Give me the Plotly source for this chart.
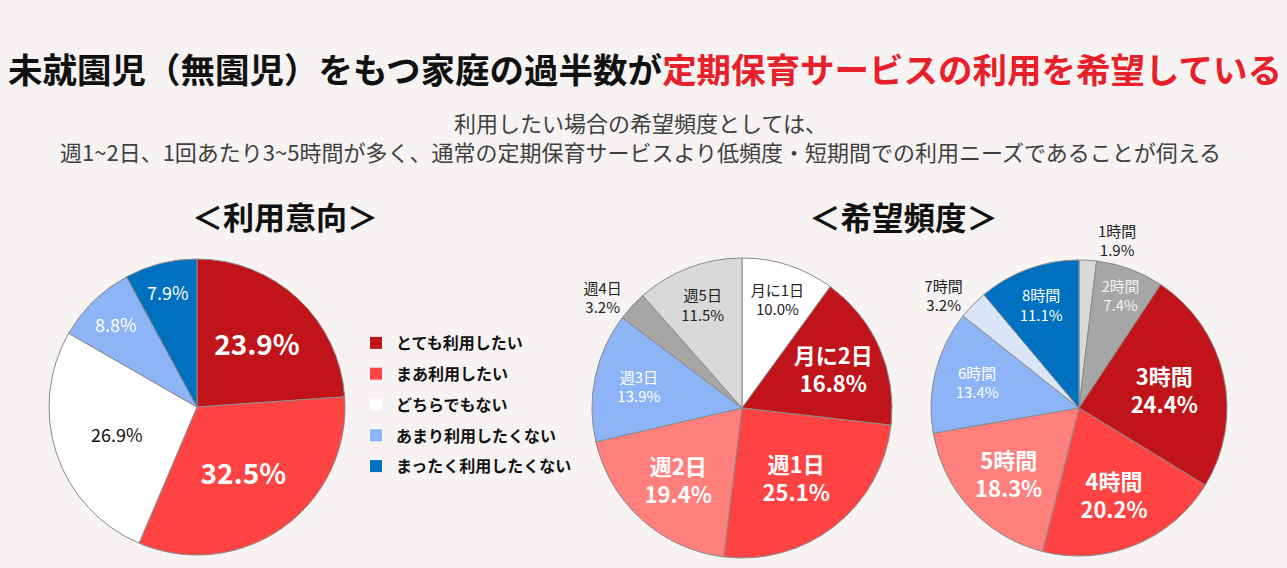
import plotly.graph_objects as go

FONT = "Noto Sans CJK JP"
BG = "#F7F3F2"
LINE = "#8A8A8A"

# ---- data ----
intent_labels = ["とても利用したい", "まあ利用したい", "どちらでもない", "あまり利用したくない", "まったく利用したくない"]
intent_values = [23.9, 32.5, 26.9, 8.8, 7.9]
intent_colors = ["#C0141A", "#FF4343", "#FFFFFF", "#8EB4F8", "#0070C0"]

freq_labels = ["月に1日", "月に2日", "週1日", "週2日", "週3日", "週4日", "週5日"]
freq_values = [10.0, 16.8, 25.1, 19.4, 13.9, 3.2, 11.5]
freq_colors = ["#FFFFFF", "#C0141A", "#FF4343", "#FF7F7C", "#8EB4F8", "#A6A6A6", "#D9D9D9"]

hour_labels = ["1時間", "2時間", "3時間", "4時間", "5時間", "6時間", "7時間", "8時間"]
hour_values = [1.9, 7.4, 24.4, 20.2, 18.3, 13.4, 3.2, 11.1]
hour_colors = ["#D9D9D9", "#A6A6A6", "#C0141A", "#FF4343", "#FF7F7C", "#8EB4F8", "#DAE6F8", "#0070C0"]

W, H = 1287, 568


def dom(cx, cy, r):
    return dict(x=[(cx - r) / W, (cx + r) / W], y=[(H - cy - r) / H, (H - cy + r) / H])


fig = go.Figure()

# pie 1: intent
fig.add_trace(go.Pie(
    labels=intent_labels, values=intent_values, sort=False, direction="clockwise", rotation=0,
    marker=dict(colors=intent_colors, line=dict(color=LINE, width=1)),
    texttemplate="%{value:.1f}%", textposition="inside", insidetextorientation="horizontal",
    insidetextfont=dict(family=FONT,
                        size=[28, 28, 18, 18, 18],
                        color=["white", "white", "#111111", "white", "white"],
                        weight=[700, 700, 400, 400, 400]),
    domain=dom(197, 407, 148), showlegend=False, hoverinfo="label+value",
))

# pie 2: frequency (days)
fig.add_trace(go.Pie(
    labels=freq_labels, values=freq_values, sort=False, direction="clockwise", rotation=0,
    marker=dict(colors=freq_colors, line=dict(color=LINE, width=1)),
    texttemplate="%{label}<br>%{value:.1f}%",
    textposition=["inside", "inside", "inside", "inside", "inside", "outside", "inside"],
    insidetextorientation="horizontal",
    textfont=dict(family=FONT,
                  size=[15, 22, 22, 22, 15, 15, 15],
                  color=["#222222", "white", "white", "white", "white", "#222222", "#222222"],
                  weight=[400, 700, 700, 700, 400, 400, 400]),
    domain=dom(742, 408, 150), showlegend=False, hoverinfo="label+value",
))

# pie 3: frequency (hours)
fig.add_trace(go.Pie(
    labels=hour_labels, values=hour_values, sort=False, direction="clockwise", rotation=0,
    marker=dict(colors=hour_colors, line=dict(color=LINE, width=1)),
    texttemplate="%{label}<br>%{value:.1f}%",
    textposition=["outside", "inside", "inside", "inside", "inside", "inside", "outside", "inside"],
    insidetextorientation="horizontal",
    textfont=dict(family=FONT,
                  size=[15, 15, 22, 22, 22, 15, 15, 15],
                  color=["#222222", "#F2F2F2", "white", "white", "white", "white", "#222222", "white"],
                  weight=[400, 400, 700, 700, 700, 400, 400, 400]),
    domain=dom(1079, 408, 148), showlegend=False, hoverinfo="label+value",
))

# legend entries for the intent pie
for lab, col in zip(intent_labels, intent_colors):
    fig.add_trace(go.Scatter(
        x=[None], y=[None], mode="markers", name=lab, legendgroup=lab,
        marker=dict(symbol="square", size=12, color=col, line=dict(width=0)),
        showlegend=True,
    ))

title_black = "未就園児（無園児）をもつ家庭の過半数が"
title_red = "定期保育サービスの利用を希望している"
sub1 = "利用したい場合の希望頻度としては、"
sub2 = "週1~2日、1回あたり3~5時間が多く、通常の定期保育サービスより低頻度・短期間での利用ニーズであることが伺える"
head1 = "＜利用意向＞"
head2 = "＜希望頻度＞"

ann = [
    dict(x=645 / W, y=1 - 68 / H,
         text=f"<b>{title_black}<span style='color:#E8202A'>{title_red}</span></b>",
         font=dict(family=FONT, size=34.5, color="#111111")),
    dict(x=640 / W, y=1 - 122 / H, text=sub1, font=dict(family=FONT, size=22, color="#404040")),
    dict(x=640 / W, y=1 - 151 / H, text=sub2, font=dict(family=FONT, size=22, color="#404040")),
    dict(x=285 / W, y=1 - 216 / H, text=f"<b>{head1}</b>", font=dict(family=FONT, size=31, color="#111111")),
    dict(x=903 / W, y=1 - 216 / H, text=f"<b>{head2}</b>", font=dict(family=FONT, size=31.5, color="#111111")),
]
for a in ann:
    a.update(xref="paper", yref="paper", showarrow=False, xanchor="center", yanchor="middle")

fig.update_layout(
    width=W, height=H, margin=dict(l=0, r=0, t=0, b=0),
    paper_bgcolor=BG, plot_bgcolor=BG,
    annotations=ann,
    xaxis=dict(visible=False), yaxis=dict(visible=False),
    legend=dict(x=356 / W, y=1 - 326 / H, xanchor="left", yanchor="top",
                bgcolor="rgba(0,0,0,0)", tracegroupgap=7, traceorder="grouped",
                font=dict(family=FONT, size=16, color="#111111", weight=700)),
    font=dict(family=FONT),
)

fig.write_html("out.html")
